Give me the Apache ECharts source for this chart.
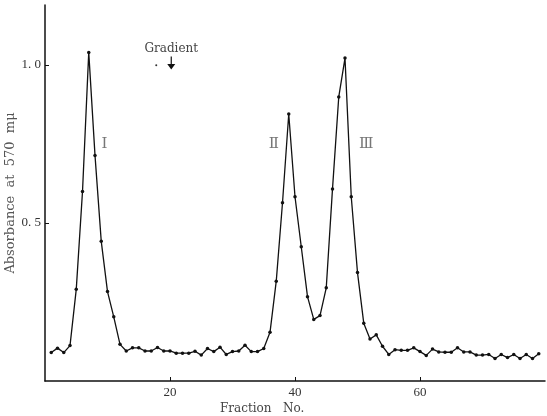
<!DOCTYPE html>
<html>
<head>
<meta charset="utf-8">
<script src="https://cdn.jsdelivr.net/npm/echarts@6/dist/echarts.min.js"></script>
<style>
  html, body { margin: 0; padding: 0; background: #fff; }
  #chart { width: 547px; height: 416px; }
</style>
</head>
<body>
<div id="chart"></div>
<script>
// fraction numbers 1..79
var fractions = [];
for (var i = 1; i <= 79; i++) fractions.push(i);

// absorbance at 570 mμ
var absorbance = [
  0.090, 0.104, 0.090, 0.112, 0.290, 0.600, 1.040, 0.714, 0.442, 0.283,
  0.203, 0.116, 0.095, 0.105, 0.105, 0.095, 0.095, 0.106, 0.095, 0.095,
  0.088, 0.088, 0.088, 0.094, 0.082, 0.103, 0.093, 0.107, 0.084, 0.093,
  0.095, 0.113, 0.093, 0.093, 0.103, 0.154, 0.316, 0.564, 0.845, 0.583,
  0.425, 0.267, 0.195, 0.207, 0.295, 0.608, 0.899, 1.022, 0.583, 0.343,
  0.183, 0.133, 0.146, 0.110, 0.084, 0.099, 0.097, 0.097, 0.105, 0.093,
  0.081, 0.101, 0.092, 0.091, 0.091, 0.105, 0.092, 0.092, 0.082, 0.082,
  0.084, 0.071, 0.084, 0.074, 0.084, 0.071, 0.084, 0.071, 0.086
];

var xTicks = [20, 40, 60];
var yTicks = [0.5, 1.0];
var yLabels = { 0.5: '0. 5', 1: '1. 0' };

// peak labels [fraction, absorbance, text]
var peakLabels = [
  [9.5, 0.75, 'Ⅰ'],
  [36.6, 0.75, 'Ⅱ'],
  [51.4, 0.75, 'Ⅲ']
];
var gradientAt = [20.2, 1.0];

var points = fractions.map(function (f, i) { return [f, absorbance[i]]; });

var chart = echarts.init(document.getElementById('chart'));
var serif = '"DejaVu Serif", "Liberation Serif", serif';
var narrow = '"Liberation Serif", "DejaVu Serif", serif';

var marks = peakLabels.map(function (p) {
  return {
    coord: [p[0], p[1]],
    symbol: 'rect',
    symbolSize: 1,
    itemStyle: { color: 'rgba(0,0,0,0)' },
    label: { show: true, formatter: p[2], color: '#777', fontSize: 15, fontFamily: serif, position: 'inside' }
  };
});
marks.push({
  coord: gradientAt,
  symbol: 'path://M3.4,0 L4.6,0 L4.6,7 L8,7 L4,12 L0,7 L3.4,7 Z',
  symbolSize: [8, 13],
  symbolOffset: [0, -2],
  itemStyle: { color: '#111' },
  label: { show: true, position: 'top', distance: 2, formatter: 'Gradient', color: '#444', fontSize: 12, fontFamily: serif }
});
marks.push({
  coord: [17.8, 0.999],
  symbol: 'circle',
  symbolSize: 2,
  itemStyle: { color: '#333' },
  label: { show: false }
});

chart.setOption({
  animation: false,
  backgroundColor: '#fff',
  grid: { left: 45, right: 2, top: 5, bottom: 35, containLabel: false, outerBoundsMode: 'none' },
  xAxis: {
    type: 'value',
    min: 0,
    max: 80,
    interval: 20,
    axisLine: { lineStyle: { color: '#111', width: 1.5 } },
    axisTick: { inside: true, length: 4, lineStyle: { color: '#111' }, customValues: xTicks },
    axisLabel: {
      margin: 5,
      color: '#333',
      fontSize: 13,
      fontFamily: narrow,
      hideOverlap: false,
      customValues: xTicks,
      formatter: function (v) { return String(Math.round(v)); }
    },
    splitLine: { show: false }
  },
  yAxis: {
    type: 'value',
    min: 0,
    max: 1.19,
    interval: 0.5,
    name: 'Absorbance  at  570  mμ',
    nameLocation: 'middle',
    nameGap: 28,
    nameMoveOverlap: false,
    nameTextStyle: { color: '#555', fontSize: 13, fontFamily: serif },
    axisLine: { show: true, lineStyle: { color: '#111', width: 1.5 } },
    axisTick: { show: true, inside: true, length: 4, lineStyle: { color: '#111' }, customValues: yTicks },
    axisLabel: {
      margin: 4,
      color: '#333',
      fontSize: 13,
      fontFamily: narrow,
      customValues: yTicks,
      formatter: function (v) { return yLabels[v] || ''; }
    },
    splitLine: { show: false }
  },
  graphic: [{
    type: 'text',
    left: 220,
    top: 403,
    style: { text: 'Fraction   No.', fill: '#444', font: '12px ' + serif }
  }],
  series: [{
    type: 'line',
    data: points,
    symbol: 'circle',
    symbolSize: 3.5,
    itemStyle: { color: '#111' },
    lineStyle: { color: '#111', width: 1.3 },
    markPoint: { silent: true, data: marks }
  }]
});
</script>
</body>
</html>
